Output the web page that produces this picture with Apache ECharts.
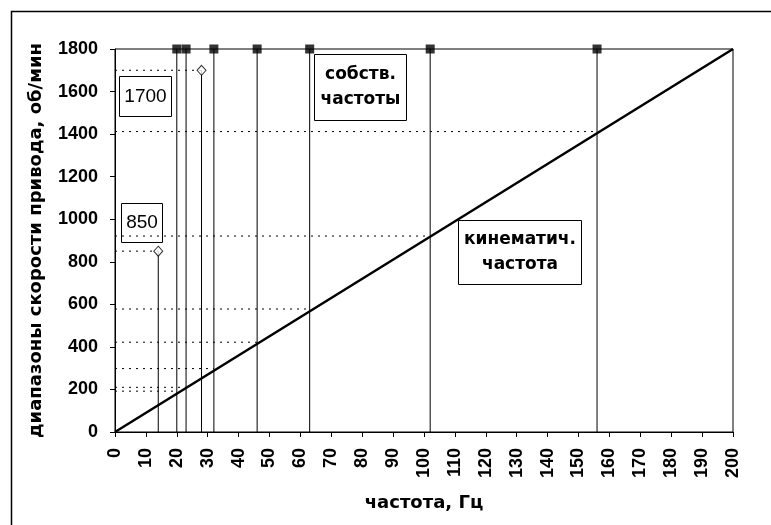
<!DOCTYPE html>
<html>
<head>
<meta charset="utf-8">
<script src="https://cdn.jsdelivr.net/npm/echarts@6/dist/echarts.min.js"></script>
<style>
html,body{margin:0;padding:0;background:#fff;}
#chart{width:771px;height:525px;}
</style>
</head>
<body>
<div id="chart"></div>
<script>
// ---- data ----
const xTicks = [0, 200, 10];           // min, max, step (Hz)
const yTicks = [0, 1800, 200];         // min, max, step (rpm)
const kinematicHz = [0, 200];
const kinematicRpm = [0, 1800];
const naturalHz = [20, 23, 32, 46, 63, 102, 156];
const naturalLevelRpm = [192, 210, 298, 422, 578, 921, 1412];
const limitHz = [14, 28];
const limitRpm = [850, 1700];
const xName = 'частота, Гц';
const yName = 'диапазоны скорости привода, об/мин';
const boxNatural = 'собств.\nчастоты';
const boxKinematic = 'кинематич.\nчастота';

const tickFont = { fontFamily: 'Liberation Sans, Arial', fontWeight: 'bold', fontSize: 18, color: '#000' };
const titleFont = { fontFamily: 'DejaVu Sans', fontWeight: 'bold', fontSize: 18, color: '#000' };
const dotted = { color: '#000', width: 1, type: [2, 5] };

const series = [];
const yTop = yTicks[1];
// natural frequency vertical lines
naturalHz.forEach(f => {
  series.push({ type: 'line', data: [[f, 0], [f, yTop]], symbol: 'none', clip: false, silent: true,
    lineStyle: { color: '#000', width: 1 }, z: 2 });
});
// dotted levels
naturalHz.forEach((f, i) => {
  series.push({ type: 'line', data: [[0, naturalLevelRpm[i]], [f, naturalLevelRpm[i]]], symbol: 'none', clip: false, silent: true,
    lineStyle: dotted, z: 1 });
});
// limit lines
limitHz.forEach((f, i) => {
  series.push({ type: 'line', data: [[f, 0], [f, limitRpm[i]]], symbol: 'none', clip: false, silent: true,
    lineStyle: { color: '#000', width: 1 }, z: 2 });
  series.push({ type: 'line', data: [[0, limitRpm[i]], [f, limitRpm[i]]], symbol: 'none', clip: false, silent: true,
    lineStyle: dotted, z: 1 });
});
// kinematic diagonal
series.push({ type: 'line', data: kinematicHz.map((h, i) => [h, kinematicRpm[i]]), symbol: 'none', clip: false, silent: true,
  lineStyle: { color: '#000', width: 2.5 }, z: 3 });
// square markers at top
series.push({ type: 'scatter', data: naturalHz.map(f => [f, yTop]), symbol: 'rect', symbolSize: 9, clip: false, silent: true,
  itemStyle: { color: '#000' }, z: 5 });
// diamonds
series.push({ type: 'scatter', data: limitHz.map((f, i) => [f, limitRpm[i]]), symbol: 'diamond', symbolSize: [9, 10], clip: false, silent: true,
  itemStyle: { color: '#fff', borderColor: '#000', borderWidth: 1 }, z: 5 });

function box(x, y, w, h, text, font) {
  return {
    type: 'group', left: x, top: y, z: 20,
    children: [
      { type: 'rect', shape: { x: 0, y: 0, width: w, height: h }, style: { fill: '#fff', stroke: '#000', lineWidth: 1 } },
      { type: 'text', x: w / 2, y: h / 2, style: Object.assign({ text: text, align: 'center', verticalAlign: 'middle', fill: '#000' }, font) }
    ]
  };
}
const boxFont = { fontFamily: 'DejaVu Sans', fontWeight: 'bold', fontSize: 17, lineHeight: 25 };
const numFont = { fontFamily: 'Liberation Sans, Arial', fontWeight: 'normal', fontSize: 19 };

const option = {
  animation: false,
  backgroundColor: '#fff',
  grid: { left: 115, right: 38, top: 49, bottom: 93, show: true, borderColor: '#000', borderWidth: 1, backgroundColor: 'transparent' },
  xAxis: {
    type: 'value', min: xTicks[0], max: xTicks[1], interval: xTicks[2],
    name: xName, nameLocation: 'middle', nameGap: 62, nameTextStyle: titleFont,
    axisLine: { lineStyle: { color: '#000', width: 1 } },
    axisTick: { show: true, length: 5, lineStyle: { color: '#000' } },
    axisLabel: Object.assign({ rotate: 90, margin: 16, formatter: v => String(v) }, tickFont),
    splitLine: { show: false }
  },
  yAxis: {
    type: 'value', min: yTicks[0], max: yTicks[1], interval: yTicks[2],
    name: yName, nameLocation: 'middle', nameGap: 70, nameTextStyle: titleFont,
    axisLine: { show: true, lineStyle: { color: '#000', width: 1 } },
    axisTick: { show: true, length: 5, lineStyle: { color: '#000' } },
    axisLabel: Object.assign({ margin: 17, formatter: v => String(v) }, tickFont),
    splitLine: { show: false }
  },
  series: series,
  graphic: [
    { type: 'rect', left: 9, top: 9, shape: { width: 800, height: 600 }, style: { fill: 'none', stroke: '#000', lineWidth: 1.5 }, z: 0, silent: true },
    box(119, 76, 52, 40, String(limitRpm[1]), numFont),
    box(121, 203, 41, 39, String(limitRpm[0]), numFont),
    box(314, 54, 92, 66, boxNatural, boxFont),
    box(458, 220, 123, 64, boxKinematic, boxFont)
  ]
};
const chart = echarts.init(document.getElementById('chart'), null, { renderer: 'canvas' });
chart.setOption(option);
</script>
</body>
</html>
